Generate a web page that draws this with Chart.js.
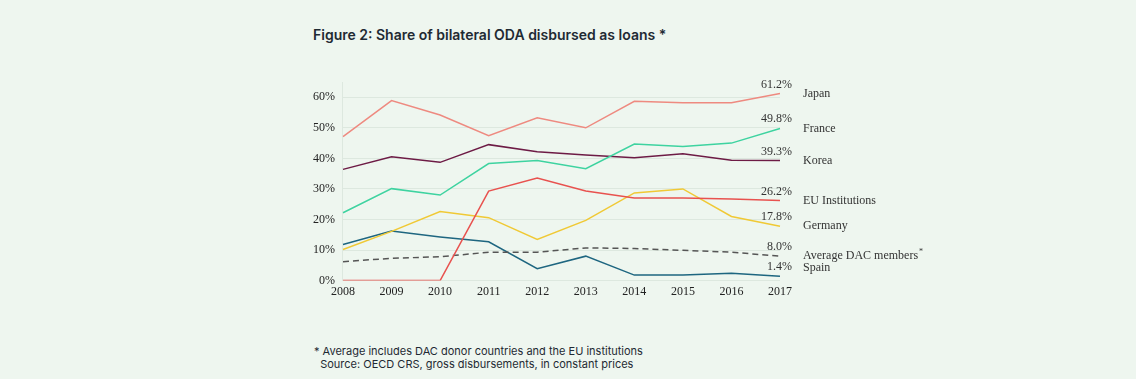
<!DOCTYPE html>
<html>
<head>
<meta charset="utf-8">
<script src="https://cdn.jsdelivr.net/npm/chart.js@4/dist/chart.umd.min.js"></script>
<style>
  html, body { margin:0; padding:0; background:#eef6ef; }
  body { width:1136px; height:379px; position:relative; overflow:hidden; font-family: Inter, "Noto Sans", sans-serif; }
  #title { position:absolute; left:313px; top:26px; font-size:14px; font-weight:600; color:#1f2a33; }
  #foot { position:absolute; left:314px; top:345px; font-size:11px; line-height:13px; color:#1f2a33; }
  #wrap { position:absolute; left:0; top:60px; width:1136px; height:250px; }
</style>
</head>
<body>
<div id="title">Figure 2: Share of bilateral ODA disbursed as loans *</div>
<div id="wrap"><canvas id="c"></canvas></div>
<div id="foot">* Average includes DAC donor countries and the EU institutions<br>&nbsp;&nbsp;Source: OECD CRS, gross disbursements, in constant prices</div>
<script>
const years = ['2008','2009','2010','2011','2012','2013','2014','2015','2016','2017'];
const japan   = [47.1, 58.9, 54.2, 47.4, 53.3, 50.0, 58.7, 58.2, 58.2, 61.2];
const france  = [22.2, 30.1, 28.0, 38.3, 39.3, 36.6, 44.7, 43.9, 45.0, 49.8];
const korea   = [36.4, 40.5, 38.7, 44.5, 42.2, 41.1, 40.2, 41.5, 39.4, 39.3];
const euInst  = [0, 0, 0, 29.3, 33.6, 29.3, 27.0, 27.0, 26.7, 26.2];
const germany = [10.2, 16.1, 22.6, 20.6, 13.5, 19.7, 28.7, 30.0, 21.0, 17.8];
const dacAvg  = [6.2, 7.3, 7.8, 9.3, 9.3, 10.7, 10.5, 9.9, 9.3, 8.0];
const spain   = [11.8, 16.2, 14.3, 12.7, 3.9, 8.0, 1.8, 1.8, 2.4, 1.4];
const seriesNames = ['Japan','France','Korea','EU Institutions','Germany','Average DAC members*','Spain'];
const endLabels = ['61.2%','49.8%','39.3%','26.2%','17.8%','8.0%','1.4%'];

const colors = ['#ee8a80','#3ed3a0','#6d1b45','#e8524f','#f0c935','#555555','#1e6680'];
const dataArr = [japan, france, korea, euInst, germany, dacAvg, spain];

const serif = '"Liberation Serif", "DejaVu Serif", serif';

const labelPlugin = {
  id: 'endLabels',
  afterDatasetsDraw(chart) {
    const ctx = chart.ctx;
    const x = chart.scales.x, y = chart.scales.y;
    const last = years.length - 1;
    const px = x.getPixelForValue(last);
    ctx.save();
    ctx.fillStyle = '#333';
    chart.data.datasets.forEach((ds, i) => {
      const py = y.getPixelForValue(ds.data[last]);
      ctx.font = '12px ' + serif;
      ctx.textAlign = 'right';
      ctx.textBaseline = 'alphabetic';
      ctx.fillText(endLabels[i], px + 12, py - 6);
      ctx.textAlign = 'left';
      ctx.textBaseline = 'middle';
      const nudge = (i === 6) ? -8 : 0;
      let name = seriesNames[i];
      if (name.endsWith('*')) {
        name = name.slice(0, -1);
        ctx.fillText(name, px + 23, py + nudge);
        const w = ctx.measureText(name).width;
        ctx.font = '8px ' + serif;
        ctx.fillText('*', px + 23 + w + 1, py + nudge - 4);
      } else {
        ctx.fillText(name, px + 23, py + nudge);
      }
    });
    ctx.restore();
  }
};

new Chart(document.getElementById('c'), {
  type: 'line',
  data: {
    labels: years,
    datasets: dataArr.map((d, i) => ({
      label: seriesNames[i],
      data: d,
      borderColor: colors[i],
      borderWidth: 1.5,
      borderDash: i === 5 ? [6, 4] : [],
      pointRadius: 0,
      tension: 0,
      fill: false
    }))
  },
  options: {
    responsive: true,
    maintainAspectRatio: false,
    animation: false,
    layout: { padding: { left: 305, right: 356, top: 22, bottom: 15 } },
    plugins: { legend: { display: false }, tooltip: { enabled: false } },
    scales: {
      x: {
        offset: false,
        grid: { display: false },
        border: { display: false },
        ticks: { font: { family: serif, size: 12 }, color: '#222', padding: -4, maxRotation: 0 }
      },
      y: {
        min: 0, max: 65,
        afterBuildTicks(scale) { scale.ticks = [0,10,20,30,40,50,60].map(v => ({ value: v })); },
        grid: { color: '#dde8df', lineWidth: 1, drawTicks: false },
        border: { display: true, color: '#dde8df' },
        ticks: { font: { family: serif, size: 12 }, color: '#222', padding: 8, callback: v => v + '%' }
      }
    }
  },
  plugins: [labelPlugin]
});
</script>
</body>
</html>
